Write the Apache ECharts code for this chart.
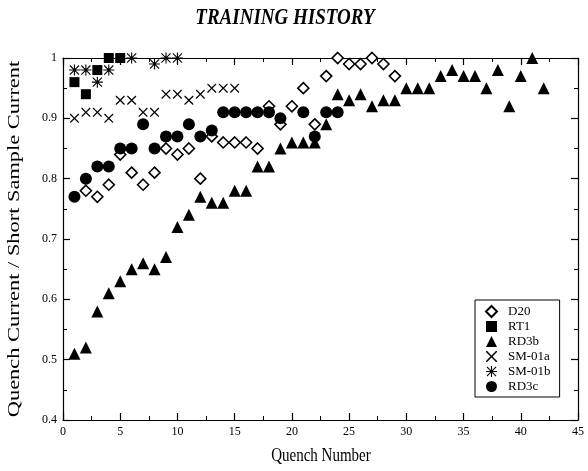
<!DOCTYPE html>
<html>
<head>
<meta charset="utf-8">
<script src="https://cdn.jsdelivr.net/npm/echarts@6/dist/echarts.min.js"></script>
<style>html,body{margin:0;padding:0;background:#fff;}#chart{width:588px;height:471px;}</style>
</head>
<body>
<div id="chart"></div>
<script>
// ---- data ----
const titleText = 'TRAINING HISTORY';
const xAxisName = 'Quench Number';
const yAxisName = 'Quench Current / Short Sample Current';
const seriesNames = ['D20', 'RT1', 'RD3b', 'SM-01a', 'SM-01b', 'RD3c'];

const d20 = [[2,0.78],[3,0.77],[4,0.79],[5,0.84],[6,0.81],[7,0.79],[8,0.81],[9,0.85],[10,0.84],[11,0.85],[12,0.80],[13,0.87],[14,0.86],[15,0.86],[16,0.86],[17,0.85],[18,0.92],[19,0.89],[20,0.92],[21,0.95],[22,0.89],[23,0.97],[24,1.0],[25,0.99],[26,0.99],[27,1.0],[28,0.99],[29,0.97]];
const rt1 = [[1,0.96],[2,0.94],[3,0.98],[4,1.0],[5,1.0]];
const rd3b = [[1,0.51],[2,0.52],[3,0.58],[4,0.61],[5,0.63],[6,0.65],[7,0.66],[8,0.65],[9,0.67],[10,0.72],[11,0.74],[12,0.77],[13,0.76],[14,0.76],[15,0.78],[16,0.78],[17,0.82],[18,0.82],[19,0.85],[20,0.86],[21,0.86],[22,0.86],[23,0.89],[24,0.94],[25,0.93],[26,0.94],[27,0.92],[28,0.93],[29,0.93],[30,0.95],[31,0.95],[32,0.95],[33,0.97],[34,0.98],[35,0.97],[36,0.97],[37,0.95],[38,0.98],[39,0.92],[40,0.97],[41,1.0],[42,0.95]];
const sm01a = [[1,0.90],[2,0.91],[3,0.91],[4,0.90],[5,0.93],[6,0.93],[7,0.91],[8,0.91],[9,0.94],[10,0.94],[11,0.93],[12,0.94],[13,0.95],[14,0.95],[15,0.95]];
const sm01b = [[1,0.98],[2,0.98],[3,0.96],[4,0.98],[6,1.0],[8,0.99],[9,1.0],[10,1.0]];
const rd3c = [[1,0.77],[2,0.80],[3,0.82],[4,0.82],[5,0.85],[6,0.85],[7,0.89],[8,0.85],[9,0.87],[10,0.87],[11,0.89],[12,0.87],[13,0.88],[14,0.91],[15,0.91],[16,0.91],[17,0.91],[18,0.91],[19,0.90],[21,0.91],[22,0.87],[23,0.91],[24,0.91]];

const xTicks = [0, 5, 10, 15, 20, 25, 30, 35, 40, 45];
const yTickLabels = ['0.4', '0.5', '0.6', '0.7', '0.8', '0.9', '1'];

// ---- styling ----
const FONT = '"Liberation Serif", "DejaVu Serif", serif';
const crossPath = 'path://M0,0 L2,0 L10,8 L18,0 L20,0 L20,2 L12,10 L20,18 L20,20 L18,20 L10,12 L2,20 L0,20 L0,18 L8,10 L0,2 Z';
const starPath = 'path://M0,9 L20,9 L20,11 L0,11 Z M9,0 L11,0 L11,20 L9,20 Z M1,2.4 L2.4,1 L19,17.6 L17.6,19 Z M17.6,1 L19,2.4 L2.4,19 L1,17.6 Z';

const chart = echarts.init(document.getElementById('chart'), null, {renderer: 'canvas'});

function axisBase(extra) {
  return Object.assign({
    axisLine: {show: true, onZero: false, lineStyle: {color: '#000', width: 1.2}},
    axisTick: {show: true, inside: true, length: 7, lineStyle: {color: '#000', width: 1.2}},
    minorTick: {show: true, splitNumber: 2, length: 4, lineStyle: {color: '#000', width: 1}},
    splitLine: {show: false},
    minorSplitLine: {show: false}
  }, extra);
}

const option = {
  backgroundColor: '#fff',
  animation: false,
  grid: {left: 63, right: 10, top: 58, bottom: 51, containLabel: false},
  graphic: [
    {type: 'text', x: 285, y: 18, scaleY: 1.25, z: 10,
     style: {text: titleText, fontFamily: FONT, fontSize: 19, fontWeight: 'bold', fontStyle: 'italic',
             fill: '#000', align: 'center', verticalAlign: 'middle'}},
    {type: 'text', x: 321, y: 456, scaleY: 1.25, z: 10,
     style: {text: xAxisName, fontFamily: FONT, fontSize: 15, fill: '#000', align: 'center', verticalAlign: 'middle'}},
    {type: 'text', x: 15, y: 239, rotation: Math.PI / 2, scaleX: 1.4, z: 10,
     style: {text: yAxisName, fontFamily: FONT, fontSize: 16, fill: '#000', align: 'center', verticalAlign: 'middle'}}
  ],
  legend: {
    orient: 'vertical',
    left: 475, top: 300,
    data: seriesNames,
    borderColor: '#000', borderWidth: 1,
    padding: [5, 9, 4, 10],
    itemGap: 2, itemWidth: 11, itemHeight: 11,
    textStyle: {fontFamily: FONT, fontSize: 13, color: '#000', padding: [0, 0, 0, 6]},
    backgroundColor: '#fff'
  },
  xAxis: [
    axisBase({
      type: 'value', min: 0, max: 45, interval: 5, position: 'bottom',
      axisLabel: {fontFamily: FONT, fontSize: 12, color: '#000', margin: 6,
        formatter: v => xTicks.indexOf(v) >= 0 ? String(v) : ''}
    }),
    axisBase({
      type: 'value', min: 0, max: 45, interval: 5, position: 'top',
      axisLabel: {show: false}
    })
  ],
  yAxis: [
    axisBase({
      type: 'value', min: 0.4, max: 1.0, interval: 0.1, position: 'left',
      axisLabel: {fontFamily: FONT, fontSize: 12, color: '#000', margin: 6,
        formatter: v => yTickLabels[Math.round((v - 0.4) * 10)] || ''}
    }),
    axisBase({
      type: 'value', min: 0.4, max: 1.0, interval: 0.1, position: 'right',
      axisLabel: {show: false}
    })
  ],
  series: [
    {name: 'D20', type: 'scatter', data: d20, clip: false, symbol: 'diamond', symbolSize: 11,
     itemStyle: {color: '#fff', borderColor: '#000', borderWidth: 1.6, opacity: 1}},
    {name: 'RT1', type: 'scatter', data: rt1, clip: false, symbol: 'rect', symbolSize: 10,
     itemStyle: {color: '#000', opacity: 1}},
    {name: 'RD3b', type: 'scatter', data: rd3b, clip: false, symbol: 'triangle', symbolSize: 12,
     itemStyle: {color: '#000', opacity: 1}},
    {name: 'SM-01a', type: 'scatter', data: sm01a, clip: false, symbol: crossPath, symbolSize: 9,
     itemStyle: {color: '#000', opacity: 1}},
    {name: 'SM-01b', type: 'scatter', data: sm01b, clip: false, symbol: starPath, symbolSize: 11,
     itemStyle: {color: '#000', opacity: 1}},
    {name: 'RD3c', type: 'scatter', data: rd3c, clip: false, symbol: 'circle', symbolSize: 12,
     itemStyle: {color: '#000', opacity: 1}}
  ]
};
chart.setOption(option);
</script>
</body>
</html>
